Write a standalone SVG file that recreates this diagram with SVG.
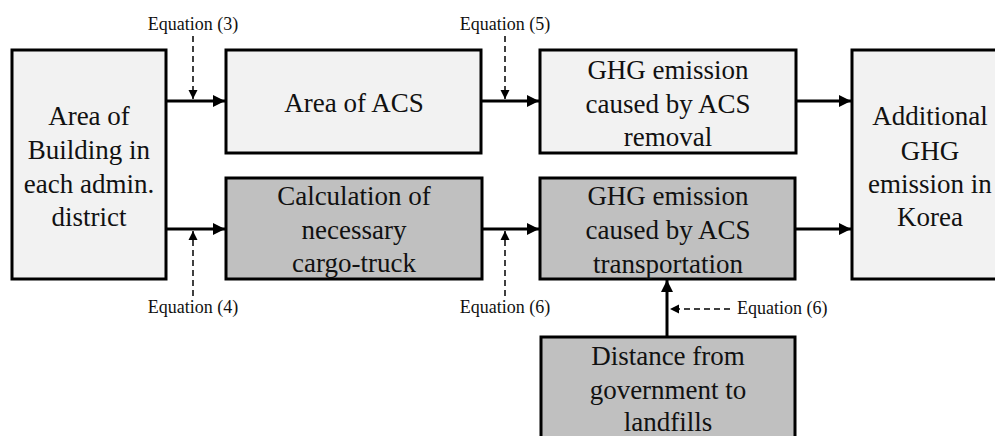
<svg xmlns="http://www.w3.org/2000/svg" width="995" height="436" viewBox="0 0 995 436">
<defs>
<marker id="ah" viewBox="0 0 10 10" refX="10" refY="5" markerWidth="4" markerHeight="4" orient="auto" markerUnits="strokeWidth"><path d="M0,0 L10,5 L0,10 z" fill="#000"/></marker>
<marker id="dh" viewBox="0 0 10 10" refX="10" refY="5" markerWidth="6" markerHeight="7" orient="auto" markerUnits="strokeWidth"><path d="M0,0 L10,5 L0,10 z" fill="#000"/></marker>
</defs>
<style>
.light{fill:#f2f2f2;stroke:#000;stroke-width:3}
.dark{fill:#c0c0c0;stroke:#000;stroke-width:3}
.t{font-family:'Times New Roman',Times,serif;font-size:27px;fill:#111;text-anchor:middle}
.eq{font-family:'Times New Roman',Times,serif;font-size:18px;fill:#111}
.solid{stroke:#000;stroke-width:3;fill:none}
.dash{stroke:#000;stroke-width:1.5;stroke-dasharray:6,4;fill:none}
</style>
<rect width="995" height="436" fill="#fff"/>
<g id="node-building">
<rect class="light" x="12" y="50" width="154" height="229"/>
<text class="t" x="89" y="125">Area of</text>
<text class="t" x="89" y="159">Building in</text>
<text class="t" x="89" y="193">each admin.</text>
<text class="t" x="89" y="226">district</text>
</g>
<g id="node-acs">
<rect class="light" x="226" y="50" width="255" height="103"/>
<text class="t" x="354" y="112">Area of ACS</text>
</g>
<g id="node-removal">
<rect class="light" x="540" y="50" width="256" height="103"/>
<text class="t" x="668" y="79">GHG emission</text>
<text class="t" x="668" y="113">caused by ACS</text>
<text class="t" x="668" y="146">removal</text>
</g>
<g id="node-truck">
<rect class="dark" x="226" y="178" width="256" height="101"/>
<text class="t" x="354" y="205">Calculation of</text>
<text class="t" x="354" y="239">necessary</text>
<text class="t" x="354" y="272">cargo-truck</text>
</g>
<g id="node-transport">
<rect class="dark" x="540" y="178" width="255" height="101"/>
<text class="t" x="668" y="205">GHG emission</text>
<text class="t" x="668" y="239">caused by ACS</text>
<text class="t" x="668" y="273">transportation</text>
</g>
<g id="node-distance">
<rect class="dark" x="541" y="337" width="254" height="110"/>
<text class="t" x="668" y="365">Distance from</text>
<text class="t" x="668" y="399">government to</text>
<text class="t" x="668" y="431">landfills</text>
</g>
<g id="node-korea">
<rect class="light" x="852" y="50" width="160" height="229"/>
<text class="t" x="930" y="125">Additional</text>
<text class="t" x="930" y="160">GHG</text>
<text class="t" x="930" y="193">emission in</text>
<text class="t" x="930" y="226">Korea</text>
</g>
<g id="connectors">
<line class="solid" x1="167" y1="101" x2="225" y2="101" marker-end="url(#ah)"/>
<line class="solid" x1="167" y1="229" x2="225" y2="229" marker-end="url(#ah)"/>
<line class="solid" x1="482" y1="101" x2="539" y2="101" marker-end="url(#ah)"/>
<line class="solid" x1="483" y1="229" x2="539" y2="229" marker-end="url(#ah)"/>
<line class="solid" x1="797" y1="101" x2="851" y2="101" marker-end="url(#ah)"/>
<line class="solid" x1="796" y1="229" x2="851" y2="229" marker-end="url(#ah)"/>
<line class="solid" x1="667" y1="336" x2="667" y2="280" marker-end="url(#ah)"/>
<line class="dash" x1="193" y1="36" x2="193" y2="99" marker-end="url(#dh)"/>
<line class="dash" x1="505" y1="36" x2="505" y2="99" marker-end="url(#dh)"/>
<line class="dash" x1="193" y1="296" x2="193" y2="231" marker-end="url(#dh)"/>
<line class="dash" x1="505" y1="296" x2="505" y2="231" marker-end="url(#dh)"/>
<line class="dash" x1="730" y1="309" x2="670" y2="309" marker-end="url(#dh)"/>
</g>
<g id="labels">
<text class="eq" x="193" y="30" text-anchor="middle">Equation (3)</text>
<text class="eq" x="505" y="30" text-anchor="middle">Equation (5)</text>
<text class="eq" x="193" y="313" text-anchor="middle">Equation (4)</text>
<text class="eq" x="505" y="313" text-anchor="middle">Equation (6)</text>
<text class="eq" x="737" y="314">Equation (6)</text>
</g>
</svg>
